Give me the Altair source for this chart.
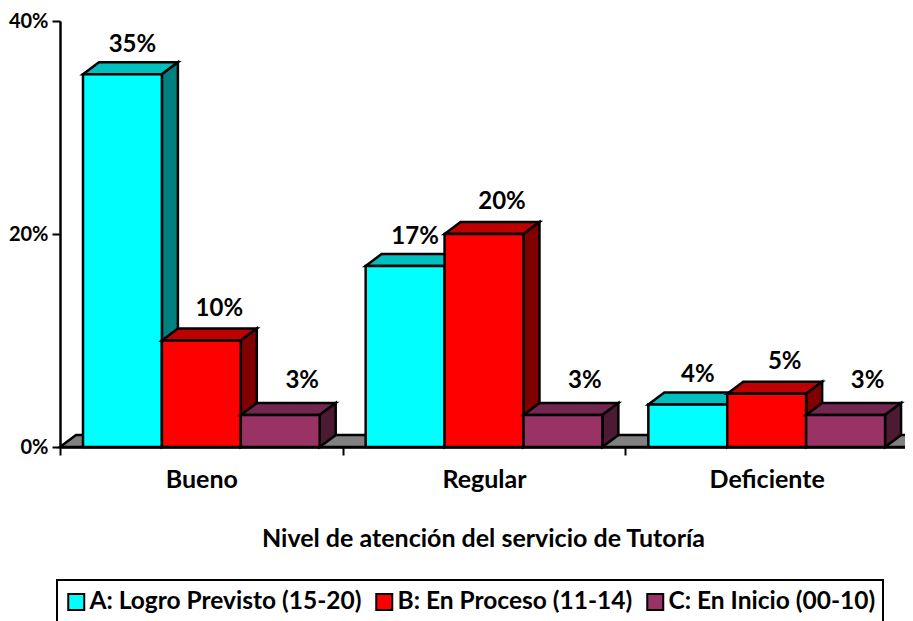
import altair as alt
import pandas as pd

categories = ["Bueno", "Regular", "Deficiente"]
series = ["A: Logro Previsto (15-20)", "B: En Proceso (11-14)", "C: En Inicio (00-10)"]
values_a = [35, 17, 4]
values_b = [10, 20, 5]
values_c = [3, 3, 3]
front_colors = ["#00FFFF", "#FF0000", "#993366"]
top_colors = ["#00BFBF", "#BF0000", "#732650"]
side_colors = ["#008080", "#800000", "#4D1A33"]
label_dx = [10, 18, 22]
label_dy = [-29, -32, -34]

CAT_PX = 282.67
PLOT_W = 845
PLOT_H = 426
GAP = 23 / CAT_PX
BAR_W = 78.9 / CAT_PX
DX = 16 / CAT_PX
DY = 12 / (PLOT_H / 40)
FONT = "Lato"
LINE = 2.5

x_scale = alt.Scale(domain=[0, PLOT_W / CAT_PX], nice=False, zero=False)
y_scale = alt.Scale(domain=[0, 40], nice=False, zero=False)

x_axis = alt.Axis(
    values=[0, 0.5, 1, 1.5, 2, 2.5],
    labelExpr="datum.value % 1 ? " + str(categories) + "[floor(datum.value)] : ''",
    tickOpacity={"condition": {"test": "datum.value % 1", "value": 0}, "value": 1},
    grid=False, zindex=1, title="Nivel de atención del servicio de Tutoría",
    domainColor="black", domainWidth=LINE, tickColor="black", tickWidth=2, tickSize=8,
    labelFont=FONT, labelFontWeight="bold", labelFontSize=25, labelColor="black",
    labelPadding=12, labelOverlap=False, labelFlush=False,
    titleFont=FONT, titleFontWeight="bold", titleFontSize=25, titleColor="black",
    titlePadding=34, titleX=423,
)
y_axis = alt.Axis(
    values=[0, 20, 40], labelExpr="datum.value + '%'", grid=False, zindex=1, title=None,
    domainColor="black", domainWidth=LINE, tickColor="black", tickWidth=2, tickSize=8,
    labelFont=FONT, labelFontWeight="bold", labelFontSize=20, labelColor="black",
    labelPadding=4, labelFlush=False,
)

X = dict(scale=x_scale, axis=x_axis)
Y = dict(scale=y_scale, axis=y_axis)

floor = pd.DataFrame({"y": [0, DY], "x": [0, DX], "x2": [3, 3 + DX]})
layers = [
    alt.Chart(floor).mark_area(orient="horizontal", color="#808080", stroke="black", strokeWidth=LINE).encode(
        x=alt.X("x:Q", **X), x2="x2:Q", y=alt.Y("y:Q", **Y))
]

color = alt.Color(
    "serie:N",
    scale=alt.Scale(domain=series, range=front_colors),
    legend=alt.Legend(
        orient="none", legendX=-3, legendY=559, direction="horizontal", columns=3, title=None,
        symbolType="square", symbolSize=256, symbolStrokeColor="black", symbolStrokeWidth=2,
        labelFont=FONT, labelFontWeight="bold", labelFontSize=24.5, labelColor="black",
        labelLimit=400, columnPadding=10, labelOffset=1, clipHeight=30,
        padding=7, strokeColor="black",
    ),
)

for s, vals in enumerate([values_a, values_b, values_c]):
    left = [i + GAP + s * BAR_W for i in range(3)]
    df = pd.DataFrame({"cat": categories, "serie": series[s], "v": vals, "l": left})
    df["r"] = df["l"] + BAR_W
    df["c"] = df["l"] + BAR_W / 2

    top = pd.concat([
        pd.DataFrame({"cat": df.cat, "y": df.v, "x": df.l, "x2": df.r}),
        pd.DataFrame({"cat": df.cat, "y": df.v + DY, "x": df.l + DX, "x2": df.r + DX}),
    ])
    side = pd.concat([
        pd.DataFrame({"cat": df.cat, "x": df.r, "y": df.v, "y2": 0.0}),
        pd.DataFrame({"cat": df.cat, "x": df.r + DX, "y": df.v + DY, "y2": DY}),
    ])
    layers.append(
        alt.Chart(top).mark_area(orient="horizontal", color=top_colors[s], stroke="black", strokeWidth=LINE, strokeJoin="miter").encode(
            x=alt.X("x:Q", **X), x2="x2:Q", y=alt.Y("y:Q", **Y), detail="cat:N")
    )
    layers.append(
        alt.Chart(side).mark_area(orient="vertical", color=side_colors[s], stroke="black", strokeWidth=LINE, strokeJoin="miter").encode(
            x=alt.X("x:Q", **X), y=alt.Y("y:Q", **Y), y2="y2:Q", detail="cat:N")
    )
    layers.append(
        alt.Chart(df).mark_rect(stroke="black", strokeWidth=LINE).encode(
            x=alt.X("l:Q", **X), x2="r:Q", y=alt.Y("v:Q", **Y),
            y2=alt.datum(0), color=color)
    )

for s, vals in enumerate([values_a, values_b, values_c]):
    df = pd.DataFrame({"v": vals, "c": [i + GAP + (s + 0.5) * BAR_W for i in range(3)]})
    df["t"] = df["v"].astype(str) + "%"
    layers.append(
        alt.Chart(df).mark_text(font=FONT, fontWeight="bold", fontSize=24, color="black",
                                dx=label_dx[s], dy=label_dy[s]).encode(
            x=alt.X("c:Q", **X), y=alt.Y("v:Q", **Y), text="t:N")
    )

chart = alt.layer(*layers).properties(
    width=PLOT_W, height=PLOT_H,
    autosize=alt.AutoSizeParams(type="none"),
    padding={"left": 52, "top": 13, "right": 0, "bottom": 174},
    background="white",
).configure_view(stroke=None).configure_legend(strokeWidth=2)

chart.save("out.html", embed_options={"renderer": "svg", "actions": False})
